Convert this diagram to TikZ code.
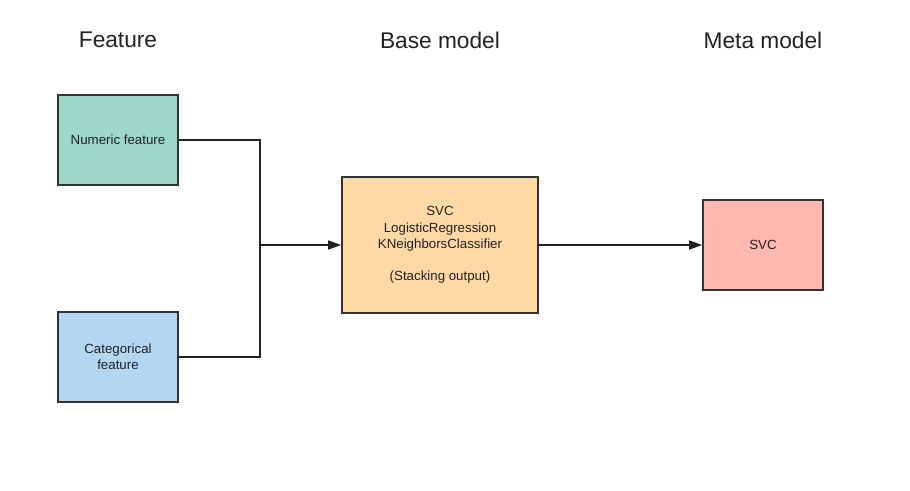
\documentclass[tikz,border=0pt]{standalone}
\usepackage{fontspec}
\setmainfont{Liberation Sans}
\usetikzlibrary{arrows.meta}
\definecolor{numfill}{HTML}{9CD7CA}
\definecolor{catfill}{HTML}{B4D7F1}
\definecolor{basefill}{HTML}{FFD8A6}
\definecolor{metafill}{HTML}{FFB9B1}
\definecolor{edge}{HTML}{333333}
\definecolor{ink}{HTML}{222222}

\begin{document}
\begin{tikzpicture}[x=1pt, y=-1pt,
	box/.style={draw=edge, line width=1.6pt, rectangle, text=ink, align=center,
		font=\fontsize{13.3}{16.3}\selectfont, inner sep=0pt},
	title/.style={text=ink, font=\fontsize{22.7}{26}\selectfont},
	link/.style={draw=ink, line width=1.5pt},
	tip/.style={-{Triangle[length=13pt, width=9pt]}}]
	% canvas 910 x 490
	\useasboundingbox (0, 0) rectangle (910, 490);
	% column titles
	\node[title] (tfeat) at (118, 40) {Feature};
	\node[title] (tbase) at (440, 40) {Base model};
	\node[title] (tmeta) at (763, 40) {Meta model};
	% features
	\node[box, fill=numfill, minimum width=120pt, minimum height=90pt] (num) at (118, 140) {Numeric feature};
	\node[box, fill=catfill, minimum width=120pt, minimum height=90pt] (cat) at (118, 357) {Categorical\\feature};
	% base model
	\node[box, fill=basefill, minimum width=196pt, minimum height=136pt] (base) at (440, 245)
		{SVC\\LogisticRegression\\KNeighborsClassifier\\[16pt](Stacking output)};
	% meta model
	\node[box, fill=metafill, minimum width=120pt, minimum height=90pt] (meta) at (763, 245) {SVC};
	% connectors
	\coordinate (jn) at (260, 245);
	\draw[link] (num.east) -| (jn) |- (cat.east);
	\draw[link, tip] (jn) -- (base.west);
	\draw[link, tip] (base.east) -- (meta.west);
\end{tikzpicture}
\end{document}
